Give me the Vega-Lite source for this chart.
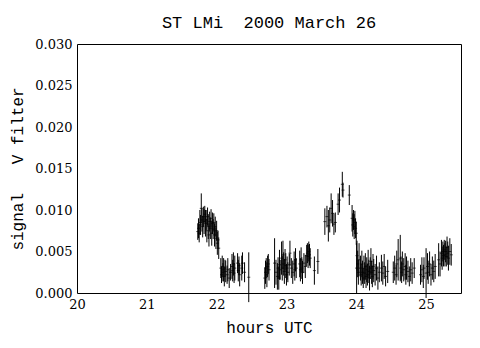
{
  "$schema": "https://vega.github.io/schema/vega-lite/v6.json",
  "width": 384,
  "height": 249,
  "autosize": "none",
  "padding": {"left": 77, "top": 44, "right": 19, "bottom": 55},
  "background": "white",
  "title": {"text": "ST LMi\u00a0\u00a02000 March 26", "font": "Liberation Mono", "fontSize": 17, "fontWeight": "normal", "color": "black", "anchor": "middle", "offset": 6},
  "data": {"values": [
    {"t":21.73,"v":0.0074,"e":0.0010},{"t":21.74,"v":0.0078,"e":0.0012},{"t":21.75,"v":0.0072,"e":0.0011},{"t":21.76,"v":0.0085,"e":0.0015},
    {"t":21.77,"v":0.0082,"e":0.0012},{"t":21.78,"v":0.0102,"e":0.0018},{"t":21.79,"v":0.0088,"e":0.0014},{"t":21.80,"v":0.0080,"e":0.0013},
    {"t":21.81,"v":0.0092,"e":0.0012},{"t":21.82,"v":0.0086,"e":0.0015},{"t":21.83,"v":0.0095,"e":0.0010},{"t":21.84,"v":0.0084,"e":0.0016},
    {"t":21.85,"v":0.0088,"e":0.0012},{"t":21.86,"v":0.0075,"e":0.0014},{"t":21.87,"v":0.0092,"e":0.0011},{"t":21.88,"v":0.0080,"e":0.0015},
    {"t":21.89,"v":0.0070,"e":0.0014},{"t":21.90,"v":0.0086,"e":0.0012},{"t":21.91,"v":0.0078,"e":0.0013},{"t":21.92,"v":0.0090,"e":0.0011},
    {"t":21.93,"v":0.0072,"e":0.0015},{"t":21.94,"v":0.0084,"e":0.0013},{"t":21.95,"v":0.0077,"e":0.0012},{"t":21.96,"v":0.0085,"e":0.0011},
    {"t":21.97,"v":0.0070,"e":0.0014},{"t":21.98,"v":0.0080,"e":0.0012},{"t":21.99,"v":0.0066,"e":0.0013},{"t":22.00,"v":0.0075,"e":0.0012},
    {"t":22.01,"v":0.0060,"e":0.0014},{"t":22.02,"v":0.0064,"e":0.0011},{"t":22.03,"v":0.0054,"e":0.0013},
    {"t":22.06,"v":0.0030,"e":0.0012},{"t":22.07,"v":0.0022,"e":0.0010},{"t":22.08,"v":0.0032,"e":0.0013},{"t":22.09,"v":0.0025,"e":0.0011},
    {"t":22.10,"v":0.0028,"e":0.0014},{"t":22.11,"v":0.0020,"e":0.0012},{"t":22.12,"v":0.0030,"e":0.0010},{"t":22.13,"v":0.0026,"e":0.0013},
    {"t":22.15,"v":0.0022,"e":0.0011},{"t":22.16,"v":0.0028,"e":0.0014},{"t":22.18,"v":0.0018,"e":0.0012},{"t":22.20,"v":0.0025,"e":0.0010},
    {"t":22.22,"v":0.0032,"e":0.0015},{"t":22.23,"v":0.0027,"e":0.0013},{"t":22.24,"v":0.0035,"e":0.0014},{"t":22.25,"v":0.0024,"e":0.0012},
    {"t":22.26,"v":0.0030,"e":0.0015},{"t":22.30,"v":0.0036,"e":0.0012},{"t":22.31,"v":0.0027,"e":0.0013},{"t":22.32,"v":0.0033,"e":0.0011},
    {"t":22.33,"v":0.0022,"e":0.0014},{"t":22.36,"v":0.0030,"e":0.0015},{"t":22.37,"v":0.0036,"e":0.0013},{"t":22.40,"v":0.0025,"e":0.0012},
    {"t":22.46,"v":0.0019,"e":0.0030},
    {"t":22.69,"v":0.0018,"e":0.0013},{"t":22.70,"v":0.0025,"e":0.0014},{"t":22.71,"v":0.0030,"e":0.0012},{"t":22.72,"v":0.0022,"e":0.0015},
    {"t":22.73,"v":0.0032,"e":0.0013},{"t":22.74,"v":0.0035,"e":0.0012},{"t":22.75,"v":0.0028,"e":0.0013},
    {"t":22.83,"v":0.0036,"e":0.0030},{"t":22.85,"v":0.0025,"e":0.0015},{"t":22.87,"v":0.0020,"e":0.0016},{"t":22.88,"v":0.0030,"e":0.0013},
    {"t":22.89,"v":0.0018,"e":0.0014},{"t":22.90,"v":0.0034,"e":0.0018},{"t":22.91,"v":0.0028,"e":0.0012},{"t":22.93,"v":0.0042,"e":0.0020},
    {"t":22.94,"v":0.0030,"e":0.0015},{"t":22.95,"v":0.0046,"e":0.0017},{"t":22.96,"v":0.0035,"e":0.0014},{"t":22.97,"v":0.0026,"e":0.0015},
    {"t":22.98,"v":0.0040,"e":0.0013},{"t":22.99,"v":0.0033,"e":0.0015},{"t":23.00,"v":0.0022,"e":0.0013},{"t":23.01,"v":0.0030,"e":0.0014},
    {"t":23.02,"v":0.0025,"e":0.0012},{"t":23.04,"v":0.0034,"e":0.0013},{"t":23.05,"v":0.0048,"e":0.0015},{"t":23.07,"v":0.0030,"e":0.0012},
    {"t":23.09,"v":0.0025,"e":0.0014},{"t":23.11,"v":0.0035,"e":0.0015},{"t":23.12,"v":0.0028,"e":0.0013},{"t":23.13,"v":0.0040,"e":0.0014},
    {"t":23.14,"v":0.0030,"e":0.0012},
    {"t":23.19,"v":0.0035,"e":0.0016},{"t":23.20,"v":0.0028,"e":0.0014},{"t":23.21,"v":0.0040,"e":0.0015},{"t":23.22,"v":0.0030,"e":0.0013},
    {"t":23.23,"v":0.0025,"e":0.0014},{"t":23.25,"v":0.0036,"e":0.0012},{"t":23.27,"v":0.0032,"e":0.0014},{"t":23.29,"v":0.0045,"e":0.0013},
    {"t":23.30,"v":0.0048,"e":0.0012},{"t":23.31,"v":0.0044,"e":0.0014},{"t":23.32,"v":0.0050,"e":0.0012},{"t":23.33,"v":0.0046,"e":0.0013},
    {"t":23.34,"v":0.0042,"e":0.0012},{"t":23.40,"v":0.0027,"e":0.0017},{"t":23.45,"v":0.0038,"e":0.0015},
    {"t":23.55,"v":0.0086,"e":0.0016},{"t":23.58,"v":0.0092,"e":0.0013},{"t":23.60,"v":0.0081,"e":0.0019},{"t":23.62,"v":0.0088,"e":0.0015},
    {"t":23.64,"v":0.0102,"e":0.0018},{"t":23.66,"v":0.0096,"e":0.0016},{"t":23.68,"v":0.0083,"e":0.0013},{"t":23.70,"v":0.0085,"e":0.0012},
    {"t":23.74,"v":0.0107,"e":0.0013},{"t":23.76,"v":0.0112,"e":0.0015},{"t":23.80,"v":0.0131,"e":0.0015},{"t":23.81,"v":0.0124,"e":0.0009},
    {"t":23.90,"v":0.0118,"e":0.0012},
    {"t":23.94,"v":0.0090,"e":0.0016},{"t":23.95,"v":0.0082,"e":0.0014},{"t":23.96,"v":0.0088,"e":0.0012},{"t":23.97,"v":0.0080,"e":0.0015},
    {"t":23.98,"v":0.0085,"e":0.0014},{"t":23.99,"v":0.0078,"e":0.0012},{"t":24.00,"v":0.0072,"e":0.0014},{"t":24.005,"v":0.0030,"e":0.0030},
    {"t":24.01,"v":0.0045,"e":0.0018},{"t":24.02,"v":0.0035,"e":0.0016},{"t":24.03,"v":0.0025,"e":0.0015},{"t":24.04,"v":0.0040,"e":0.0020},
    {"t":24.06,"v":0.0030,"e":0.0015},{"t":24.07,"v":0.0022,"e":0.0013},{"t":24.08,"v":0.0035,"e":0.0016},{"t":24.09,"v":0.0025,"e":0.0014},
    {"t":24.10,"v":0.0018,"e":0.0012},{"t":24.11,"v":0.0030,"e":0.0015},{"t":24.12,"v":0.0024,"e":0.0013},{"t":24.13,"v":0.0032,"e":0.0016},
    {"t":24.14,"v":0.0020,"e":0.0014},{"t":24.15,"v":0.0028,"e":0.0015},{"t":24.16,"v":0.0022,"e":0.0013},{"t":24.17,"v":0.0035,"e":0.0017},
    {"t":24.18,"v":0.0026,"e":0.0014},{"t":24.19,"v":0.0018,"e":0.0015},{"t":24.20,"v":0.0030,"e":0.0013},{"t":24.21,"v":0.0038,"e":0.0016},
    {"t":24.22,"v":0.0025,"e":0.0014},{"t":24.23,"v":0.0020,"e":0.0013},{"t":24.24,"v":0.0032,"e":0.0015},{"t":24.25,"v":0.0027,"e":0.0014},
    {"t":24.27,"v":0.0022,"e":0.0013},{"t":24.29,"v":0.0030,"e":0.0015},{"t":24.31,"v":0.0018,"e":0.0014},{"t":24.33,"v":0.0025,"e":0.0012},
    {"t":24.36,"v":0.0030,"e":0.0016},{"t":24.38,"v":0.0024,"e":0.0014},{"t":24.40,"v":0.0032,"e":0.0015},{"t":24.42,"v":0.0020,"e":0.0012},
    {"t":24.45,"v":0.0026,"e":0.0014},
    {"t":24.53,"v":0.0025,"e":0.0013},{"t":24.55,"v":0.0030,"e":0.0015},{"t":24.57,"v":0.0022,"e":0.0012},{"t":24.58,"v":0.0035,"e":0.0016},
    {"t":24.60,"v":0.0040,"e":0.0025},{"t":24.63,"v":0.0042,"e":0.0028},{"t":24.64,"v":0.0030,"e":0.0014},{"t":24.65,"v":0.0025,"e":0.0013},
    {"t":24.66,"v":0.0035,"e":0.0015},{"t":24.68,"v":0.0028,"e":0.0014},{"t":24.70,"v":0.0032,"e":0.0016},{"t":24.71,"v":0.0022,"e":0.0012},
    {"t":24.72,"v":0.0030,"e":0.0014},{"t":24.74,"v":0.0026,"e":0.0013},{"t":24.76,"v":0.0020,"e":0.0012},{"t":24.78,"v":0.0028,"e":0.0014},
    {"t":24.80,"v":0.0024,"e":0.0013},{"t":24.83,"v":0.0030,"e":0.0012},
    {"t":24.92,"v":0.0022,"e":0.0012},{"t":24.94,"v":0.0028,"e":0.0015},{"t":24.96,"v":0.0020,"e":0.0014},{"t":24.97,"v":0.0030,"e":0.0013},
    {"t":25.00,"v":0.0024,"e":0.0030},{"t":25.02,"v":0.0032,"e":0.0016},{"t":25.03,"v":0.0025,"e":0.0014},{"t":25.05,"v":0.0035,"e":0.0015},
    {"t":25.07,"v":0.0022,"e":0.0013},{"t":25.09,"v":0.0030,"e":0.0014},{"t":25.11,"v":0.0026,"e":0.0013},{"t":25.13,"v":0.0032,"e":0.0015},
    {"t":25.18,"v":0.0040,"e":0.0020},{"t":25.20,"v":0.0035,"e":0.0015},{"t":25.22,"v":0.0048,"e":0.0016},{"t":25.23,"v":0.0042,"e":0.0014},
    {"t":25.24,"v":0.0050,"e":0.0012},{"t":25.25,"v":0.0045,"e":0.0013},{"t":25.26,"v":0.0052,"e":0.0012},{"t":25.27,"v":0.0046,"e":0.0014},
    {"t":25.28,"v":0.0050,"e":0.0013},{"t":25.29,"v":0.0044,"e":0.0012},{"t":25.30,"v":0.0055,"e":0.0013},{"t":25.31,"v":0.0048,"e":0.0014},
    {"t":25.32,"v":0.0042,"e":0.0015},{"t":25.34,"v":0.0050,"e":0.0016},{"t":25.36,"v":0.0046,"e":0.0013}
  ]},
  "layer": [
    {
      "mark": {"type": "errorbar", "color": "black", "thickness": 1},
      "encoding": {
        "x": {"field": "t", "type": "quantitative", "scale": {"domain": [20, 25.5], "nice": false, "zero": false},
          "axis": {"orient": "bottom", "title": "hours UTC", "values": [20, 21, 22, 23, 24, 25], "format": "d", "labelPadding": 5, "titlePadding": 8,
            "encode": {"ticks": {"update": {"y2": {"value": -7}}}}}},
        "y": {"field": "v", "type": "quantitative", "scale": {"domain": [0, 0.03], "nice": false, "zero": true},
          "axis": {"orient": "left", "title": "signal\u00a0\u00a0\u00a0V filter", "labelPadding": 5, "titlePadding": 9,
            "values": [0,0.001,0.002,0.003,0.004,0.005,0.006,0.007,0.008,0.009,0.010,0.011,0.012,0.013,0.014,0.015,0.016,0.017,0.018,0.019,0.020,0.021,0.022,0.023,0.024,0.025,0.026,0.027,0.028,0.029,0.030],
            "labelExpr": "abs(datum.value*200 - round(datum.value*200)) < 0.01 ? format(datum.value, '.3f') : ''",
            "encode": {"ticks": {"update": {"x2": {"signal": "abs(datum.value*200 - round(datum.value*200)) < 0.01 ? 8 : 4"}}}}}},
        "yError": {"field": "e"}
      }
    },
    {
      "mark": {"type": "tick", "orient": "horizontal", "color": "black", "size": 3, "thickness": 1},
      "encoding": {
        "x": {"field": "t", "type": "quantitative",
          "axis": {"orient": "top", "title": null, "labels": false, "values": [20, 21, 22, 23, 24, 25],
            "encode": {"ticks": {"update": {"y2": {"value": 7}}}}}},
        "y": {"field": "v", "type": "quantitative",
          "axis": {"orient": "right", "title": null, "labels": false,
            "values": [0,0.001,0.002,0.003,0.004,0.005,0.006,0.007,0.008,0.009,0.010,0.011,0.012,0.013,0.014,0.015,0.016,0.017,0.018,0.019,0.020,0.021,0.022,0.023,0.024,0.025,0.026,0.027,0.028,0.029,0.030],
            "encode": {"ticks": {"update": {"x2": {"signal": "abs(datum.value*200 - round(datum.value*200)) < 0.01 ? -8 : -4"}}}}}}
      }
    }
  ],
  "config": {
    "view": {"stroke": null},
    "axis": {
      "grid": false, "tickSize": 0, "ticks": true, "domainColor": "black", "domainWidth": 1, "tickColor": "black", "tickWidth": 1,
      "labelFont": "DejaVu Serif", "labelFontSize": 13, "labelColor": "black", "labelOverlap": false, "labelFlush": false, "labelBound": false,
      "titleFont": "Liberation Mono", "titleFontSize": 16, "titleFontWeight": "normal", "titleColor": "black"
    }
  }
}
